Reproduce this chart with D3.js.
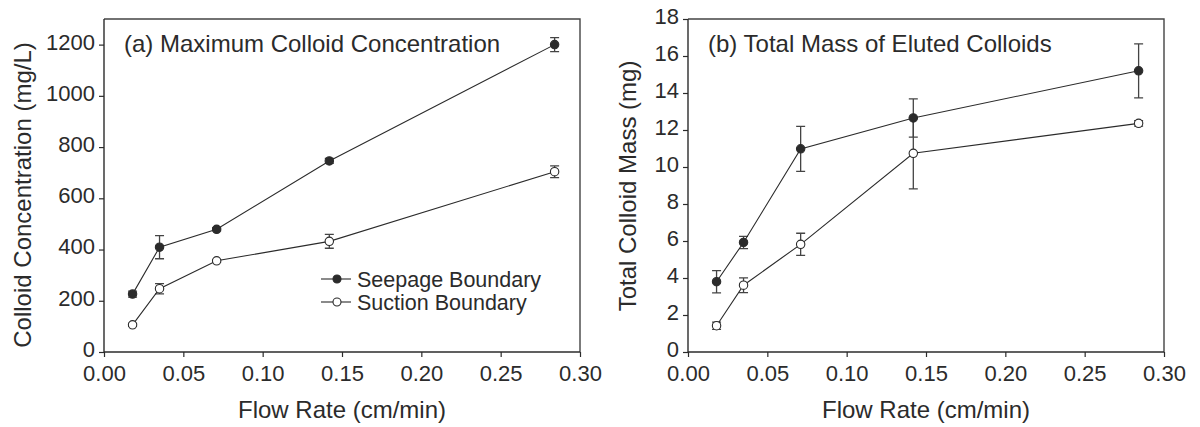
<!DOCTYPE html>
<html>
<head>
<meta charset="utf-8">
<script src="https://cdn.jsdelivr.net/npm/d3@7"></script>
<style>
  body { margin: 0; background: #fff; }
  svg { display: block; font-family: "Liberation Sans", Arial, sans-serif; }
</style>
</head>
<body>
<svg id="chart" width="1200" height="427"></svg>
<script>
// flow rates (cm/min), same for both panels
const flowRate = [0.018, 0.035, 0.071, 0.142, 0.284];
const xTicks = [0, 0.05, 0.10, 0.15, 0.20, 0.25, 0.30];

// (a) max colloid concentration, mg/L
const concSeepage = [226, 409, 479, 746, 1200];
const concSeepageErr = [12, 45, 6, 10, 27];
const concSuction = [106, 247, 356, 432, 704];
const concSuctionErr = [6, 20, 5, 27, 23];
const concTicks = [0, 200, 400, 600, 800, 1000, 1200];

// (b) total mass of eluted colloids, mg
const massSeepage = [3.8, 5.92, 10.98, 12.65, 15.2];
const massSeepageErr = [0.6, 0.33, 1.22, 1.03, 1.46];
const massSuction = [1.42, 3.61, 5.82, 10.74, 12.36];
const massSuctionErr = [0.2, 0.4, 0.6, 1.92, 0.15];
const massTicks = [0, 2, 4, 6, 8, 10, 12, 14, 16, 18];

const ink = "#2b2b2b";
const svg = d3.select("#chart");

drawPanel({
    left: 104, right: 580, top: 19, bottom: 352,
    yMax: 1300, yTicks: concTicks,
    seepage: concSeepage, seepageErr: concSeepageErr,
    suction: concSuction, suctionErr: concSuctionErr,
    title: "(a) Maximum Colloid Concentration",
    yLabel: "Colloid Concentration (mg/L)", yLabelX: 31, yLabelY: 195,
    legend: true
});

drawPanel({
    left: 688, right: 1164, top: 19, bottom: 352,
    yMax: 18, yTicks: massTicks,
    seepage: massSeepage, seepageErr: massSeepageErr,
    suction: massSuction, suctionErr: massSuctionErr,
    title: "(b) Total Mass of Eluted Colloids",
    yLabel: "Total Colloid Mass (mg)", yLabelX: 636, yLabelY: 186,
    legend: false
});

function drawPanel(p) {
    var x = d3.scaleLinear().domain([0, 0.30]).range([p.left, p.right]);
    var y = d3.scaleLinear().domain([0, p.yMax]).range([p.bottom, p.top]);
    var g = svg.append("g");

    // frame (top + right)
    g.append("path")
        .attr("d", `M${p.left},${p.top}H${p.right}V${p.bottom}`)
        .attr("fill", "none").attr("stroke", "#444").attr("stroke-width", 1.4);

    var xAxis = g.append("g")
        .attr("transform", `translate(0,${p.bottom})`)
        .call(d3.axisBottom(x).tickValues(xTicks).tickFormat(d3.format(".2f")).tickSizeOuter(0).tickSize(5).tickPadding(8));
    var yAxis = g.append("g")
        .attr("transform", `translate(${p.left},0)`)
        .call(d3.axisLeft(y).tickValues(p.yTicks).tickFormat(d3.format("d")).tickSizeOuter(0).tickSize(5).tickPadding(4));
    [xAxis, yAxis].forEach(function(a) {
        a.select(".domain").attr("stroke", ink).attr("stroke-width", 1.4);
        a.selectAll(".tick line").attr("stroke", ink).attr("stroke-width", 1.2);
        a.selectAll(".tick text").attr("fill", ink).style("font-size", "22px");
    });
    yAxis.selectAll(".tick text").attr("dy", "0.2em");
    // stretch y axis line to the top of the frame
    yAxis.select(".domain").attr("d", `M0,${p.bottom}V${p.top}`);
    xAxis.select(".domain").attr("d", `M${p.left},0H${p.right}`);

    g.append("text")
        .attr("x", (p.left + p.right) / 2).attr("y", 418)
        .attr("text-anchor", "middle").attr("fill", ink)
        .style("font-size", "24px")
        .text("Flow Rate (cm/min)");

    g.append("text")
        .attr("transform", `translate(${p.yLabelX},${p.yLabelY}) rotate(-90)`)
        .attr("text-anchor", "middle").attr("fill", ink)
        .style("font-size", "24px")
        .text(p.yLabel);

    g.append("text")
        .attr("x", p.left + 20).attr("y", 52)
        .attr("fill", ink).style("font-size", "24px")
        .text(p.title);

    var series = [
        { vals: p.suction, err: p.suctionErr, fill: "#fff" },
        { vals: p.seepage, err: p.seepageErr, fill: ink }
    ];
    var line = d3.line().x(function(d, i) { return x(flowRate[i]); }).y(function(d) { return y(d); });

    // error bars first so markers sit on top
    series.forEach(function(s) {
        s.vals.forEach(function(v, i) {
            var cx = x(flowRate[i]), y1 = y(v + s.err[i]), y0 = y(v - s.err[i]);
            g.append("path")
                .attr("d", `M${cx},${y0}V${y1}M${cx - 4.5},${y0}H${cx + 4.5}M${cx - 4.5},${y1}H${cx + 4.5}`)
                .attr("stroke", "#444").attr("stroke-width", 1.3).attr("fill", "none");
        });
    });
    series.forEach(function(s) {
        g.append("path").datum(s.vals)
            .attr("d", line)
            .attr("fill", "none").attr("stroke", ink).attr("stroke-width", 1.1);
    });
    series.forEach(function(s) {
        g.selectAll(null).data(s.vals).enter().append("circle")
            .attr("cx", function(d, i) { return x(flowRate[i]); })
            .attr("cy", function(d) { return y(d); })
            .attr("r", 4.2)
            .attr("fill", s.fill).attr("stroke", ink).attr("stroke-width", 1.1);
    });

    if (p.legend) {
        var items = [{ name: "Seepage Boundary", fill: ink }, { name: "Suction Boundary", fill: "#fff" }];
        items.forEach(function(it, k) {
            var ly = 279 + k * 23;
            g.append("line").attr("x1", 321).attr("x2", 351).attr("y1", ly).attr("y2", ly)
                .attr("stroke", ink).attr("stroke-width", 1.1);
            g.append("circle").attr("cx", 337).attr("cy", ly).attr("r", 4)
                .attr("fill", it.fill).attr("stroke", ink).attr("stroke-width", 1.1);
            g.append("text").attr("x", 357).attr("y", ly + 7.5)
                .attr("fill", ink).style("font-size", "21.5px")
                .text(it.name);
        });
    }
}
</script>
</body>
</html>
